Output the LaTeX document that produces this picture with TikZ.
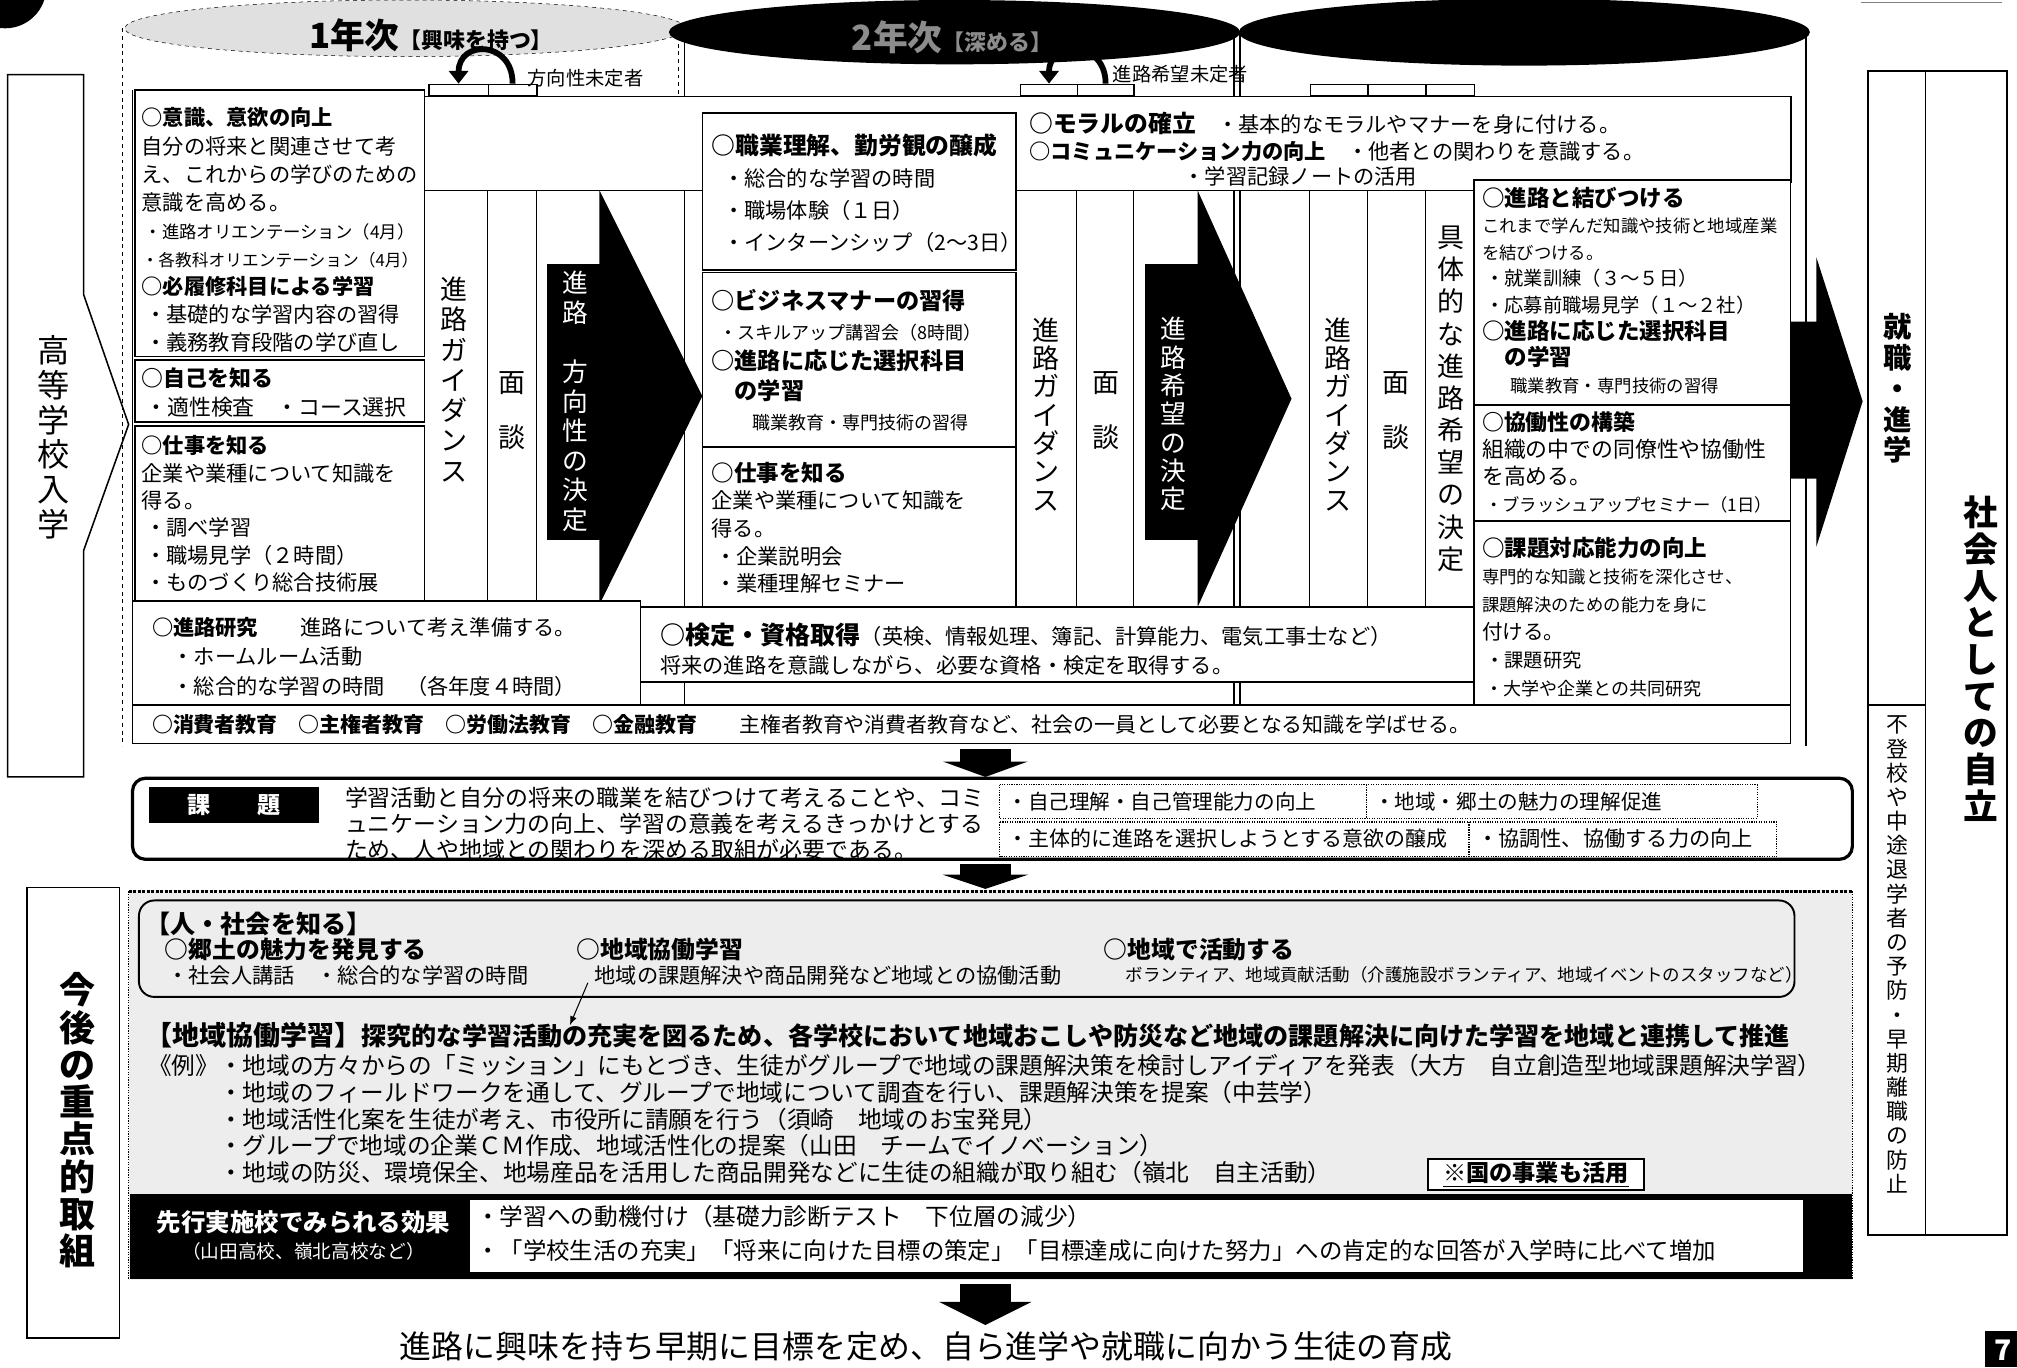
\documentclass[tikz,border=0pt]{standalone}
\usepackage{fontspec}
\setmainfont{Noto Sans CJK JP}
\usetikzlibrary{positioning,calc,arrows.meta}

\newcommand\fsz[2]{\fontsize{#1}{#2}\selectfont}

\tikzset{
  box/.style={draw, line width=1.2pt, fill=white},
  txt/.style={anchor=north west, align=left, inner sep=0pt},
  line/.style={anchor=west, inner sep=0pt},
  vt/.style={align=center, inner sep=0pt},
  tab/.style={draw, line width=1pt, minimum height=9pt, inner sep=0pt, anchor=south west},
  dbox/.style={draw, densely dotted, line width=0.9pt},
  turn/.style={line width=4.5pt, -{Triangle[length=10pt,width=15pt]}},
}

\begin{document}
\begin{tikzpicture}[x=1pt,y=-1pt]
\useasboundingbox (0,0) rectangle (1568,1063);

% page marks
\fill (4,-10) circle (32);
\draw[black!50] (1447,2) -- (1556,2);
\fill (1543,1035) rectangle (1568,1063);
\node[font=\fsz{22}{22}\bfseries, text=white] (pageno) at (1557,1050) {7};

% cylinders
\draw[dashed, fill=black!12] (315,22) ellipse (218 and 22);
\draw[dashed] (95,22) -- (95,580);
\draw[dashed] (527,22) -- (527,75);
\fill (742,25) ellipse (222 and 25);
\fill (1185,25) ellipse (222 and 26);
\draw[line width=1pt] (532,25) -- (532,578);
\draw[line width=1.5pt] (959,25) -- (959,578);
\draw[line width=1.5pt] (964,25) -- (964,578);
\draw[line width=2pt] (1404,25) -- (1404,580);
\node[font=\bfseries] (nen1) at (335,27) {\fsz{27}{27}1年次{\fsz{17}{17}【興味を持つ】}};
\node[font=\bfseries, text=black!45] (nen2) at (740,29) {\fsz{27}{27}2年次{\fsz{17}{17}【深める】}};

% left and right labels
\draw[line width=1.2pt] (65,229) -- (65,58) -- (6,58) -- (6,604) -- (65,604) -- (65,428) -- (100,330) -- cycle;
\node[vt, font=\fsz{25}{27}] (nyugaku) at (42,340) {高\\等\\学\\校\\入\\学};
\draw[line width=1.2pt] (21,690) rectangle (93,1040);
\node[vt, font=\fsz{28}{29}\bfseries] (kongo) at (60,871) {今\\後\\の\\重\\点\\的\\取\\組};
\draw[line width=1.2pt] (1452,55) rectangle (1497,960);
\draw[line width=1pt] (1452,548) -- (1497,548);
\draw[line width=1.2pt] (1497,55) rectangle (1560,960);
\node[vt, font=\fsz{22}{24}\bfseries] (shushoku) at (1475,302) {就\\職\\・\\進\\学};
\node[vt, font=\fsz{17}{18.8}] (futoko) at (1475,742) {不\\登\\校\\や\\中\\途\\退\\学\\者\\の\\予\\防\\・\\早\\期\\離\\職\\の\\防\\止};
\node[vt, font=\fsz{27}{28.5}\bfseries] (jiritsu) at (1540,512) {社\\会\\人\\と\\し\\て\\の\\自\\立};

% upper frame
\fill[white] (330,75) rectangle (1392,148);
\draw[line width=1.5pt] (330,75) -- (1392,75) -- (1392,142);
\draw[line width=1pt] (330,148) -- (1146,148);
\foreach \x in {379,417,837,881,1018,1063,1108}
  \draw[line width=1pt] (\x,148) -- (\x,472);
\draw[line width=1.2pt] (103,70) -- (103,578);

% tabs and turn arrows
\node[tab, minimum width=46pt] (t1a) at (333,75) {};
\node[tab, minimum width=38pt] (t1b) at (379,75) {};
\node[tab, minimum width=44pt] (t2a) at (793,75) {};
\node[tab, minimum width=44pt] (t2b) at (837,75) {};
\node[tab, minimum width=45pt] (t3a) at (1018,75) {};
\node[tab, minimum width=45pt] (t3b) at (1063,75) {};
\node[tab, minimum width=38pt] (t3c) at (1108,75) {};
\draw[turn] (t1b.north) .. controls +(0,-34) and +(0,-34) .. (t1a.north);
\draw[turn] (t2b.north) .. controls +(0,-34) and +(0,-34) .. (t2a.north);
\node[line, font=\fsz{15}{15}] (mitei1) at (410,61) {方向性未定者};
\node[line, font=\fsz{15}{15}] (mitei2) at (865,58) {進路希望未定者};

% black arrows
\fill (425,205) rectangle (468,420);
\fill (466,148) -- (546,308) -- (466,470) -- cycle;
\fill (890,205) rectangle (933,420);
\fill (931,148) -- (1004,310) -- (931,472) -- cycle;
\fill (1392,250) -- (1412,250) -- (1412,200) -- (1448,312) -- (1412,425) -- (1412,372) -- (1392,372) -- cycle;
\node[vt, font=\fsz{20}{23}, text=white] (kettei1) at (447,312) {進\\路\\　\\方\\向\\性\\の\\決\\定};
\node[vt, font=\fsz{20}{22}, text=white] (kettei2) at (912,322) {進\\路\\希\\望\\の\\決\\定};

% strips
\node[vt, font=\fsz{21}{23.5}] (guide1) at (353,295) {進\\路\\ガ\\イ\\ダ\\ン\\ス};
\node[vt, font=\fsz{21}{43}] (men1) at (398,319) {面\\談};
\node[vt, font=\fsz{21}{22}] (guide2) at (813,322) {進\\路\\ガ\\イ\\ダ\\ン\\ス};
\node[vt, font=\fsz{21}{43}] (men2) at (860,319) {面\\談};
\node[vt, font=\fsz{21}{22}] (guide3) at (1040,322) {進\\路\\ガ\\イ\\ダ\\ン\\ス};
\node[vt, font=\fsz{21}{43}] (men3) at (1085,319) {面\\談};
\node[vt, font=\fsz{21}{25}] (gutai) at (1128,310) {具\\体\\的\\な\\進\\路\\希\\望\\の\\決\\定};

% 1st year boxes
\draw[box] (105,70) rectangle (330,277);
\node[txt, font=\fsz{16.5}{21.8}] (ishiki) at (110,83.6) {{\bfseries ○意識、意欲の向上}\\自分の将来と関連させて考\\え、これからの学びのための\\意識を高める。\\{\fsz{13.5}{21.8}\,・進路オリエンテーション（4月）}\\{\fsz{13}{21.8}・各教科オリエンテーション（4月）}\\{\bfseries ○必履修科目による学習}\\\,・基礎的な学習内容の習得\\\,・義務教育段階の学び直し};
\draw[box] (105,280) rectangle (330,328);
\node[txt, font=\fsz{17}{23}] (jiko) at (110,285.4) {{\bfseries ○自己を知る}\\\,・適性検査　・コース選択};
\draw[box] (105,331) rectangle (330,467);
\node[txt, font=\fsz{16.5}{21.2}] (shigoto1) at (110,338.6) {{\bfseries ○仕事を知る}\\企業や業種について知識を\\得る。\\\,・調べ学習\\\,・職場見学（２時間）\\\,・ものづくり総合技術展};

% 2nd year boxes
\draw[box] (546,88) rectangle (790,210);
\node[txt, font=\fsz{16.5}{25}] (shokugyo) at (553,103.7) {{\fsz{18.5}{25}\bfseries ○職業理解、勤労観の醸成}\\\hspace*{9pt}・総合的な学習の時間\\\hspace*{9pt}・職場体験（１日）\\\hspace*{9pt}・インターンシップ（2～3日）};
\draw[box] (546,212) rectangle (790,347);
\node[txt, font=\fsz{18}{23.2}] (business) at (553,225) {{\bfseries ○ビジネスマナーの習得}\\{\fsz{14}{23.2}\hspace*{6pt}・スキルアップ講習会（8時間）}\\{\bfseries ○進路に応じた選択科目}\\{\bfseries 　の学習}\\{\fsz{14}{23.2}\hspace*{32pt}職業教育・専門技術の習得}};
\draw[box] (546,348) rectangle (790,472);
\node[txt, font=\fsz{16.5}{21.5}] (shigoto2) at (553,359) {{\fsz{17.5}{21.5}\bfseries ○仕事を知る}\\企業や業種について知識を\\得る。\\\,・企業説明会\\\,・業種理解セミナー};

% band
\node[txt, font=\fsz{16.5}{21}] (moral) at (800,87) {{\fsz{18.5}{21}\bfseries ○モラルの確立}　・基本的なモラルやマナーを身に付ける。\\{\bfseries ○コミュニケーション力の向上}　・他者との関わりを意識する。};
\node[line, font=\fsz{16.5}{16.5}] (note) at (920,137) {・学習記録ノートの活用};

% 3rd year boxes
\draw[box] (1146,140) rectangle (1392,315);
\node[txt, font=\fsz{15}{20.7}] (musubi) at (1152,145) {{\fsz{17.5}{20.7}\bfseries ○進路と結びつける}\\{\fsz{13.5}{20.7}これまで学んだ知識や技術と地域産業}\\{\fsz{13.5}{20.7}を結びつける。}\\\,・就業訓練（３～５日）\\\,・応募前職場見学（１～２社）\\{\fsz{17.5}{20.7}\bfseries ○進路に応じた選択科目}\\{\fsz{17.5}{20.7}\bfseries 　の学習}\\{\fsz{13.5}{20.7}\hspace*{22pt}職業教育・専門技術の習得}};
\draw[box] (1146,315) rectangle (1392,405);
\node[txt, font=\fsz{17}{21}] (kyodo) at (1152,320) {{\bfseries ○協働性の構築}\\組織の中での同僚性や協働性\\を高める。\\{\fsz{13.5}{21}\,・ブラッシュアップセミナー（1日）}};
\draw[box] (1146,405) rectangle (1392,548);
\node[txt, font=\fsz{15}{21.6}] (taio) at (1152,417) {{\fsz{17.5}{21.6}\bfseries ○課題対応能力の向上}\\{\fsz{13.5}{21.6}専門的な知識と技術を深化させ、}\\{\fsz{13.5}{21.6}課題解決のための能力を身に}\\{\fsz{16}{21.6}付ける。}\\\,・課題研究\\{\fsz{14}{21.6}\,・大学や企業との共同研究}};

% lower rows of the upper part
\draw[box] (103,467) rectangle (498,548);
\node[txt, font=\fsz{16.5}{23}] (kenkyu) at (118,479.6) {{\bfseries ○進路研究}　　進路について考え準備する。\\\hspace*{16pt}・ホームルーム活動\\\hspace*{16pt}・総合的な学習の時間　（各年度４時間）};
\draw[box] (498,472) rectangle (1146,530);
\node[txt, font=\fsz{16.5}{23}] (kentei) at (513,484) {{\fsz{19.5}{23}\bfseries ○検定・資格取得}（英検、情報処理、簿記、計算能力、電気工事士など）\\将来の進路を意識しながら、必要な資格・検定を取得する。};
\draw[box] (103,548) rectangle (1392,578);
\node[line, font=\fsz{16.3}{16.3}] (shohi) at (118,563) {{\bfseries ○消費者教育　○主権者教育　○労働法教育　○金融教育}　　主権者教育や消費者教育など、社会の一員として必要となる知識を学ばせる。};

% problem section
\fill (746,582) rectangle (786,592);
\fill (733,592) -- (799,592) -- (766,604) -- cycle;
\draw[line width=2.5pt, rounded corners=10pt, fill=white] (103,605) rectangle (1440,668);
\fill (116,612) rectangle (248,640);
\node[font=\fsz{18}{18}\bfseries, text=white] (kadaiLbl) at (182,626) {課　　題};
\node[txt, font=\fsz{17.8}{20}] (kadaiTxt) at (268,612) {学習活動と自分の将来の職業を結びつけて考えることや、コミ\\ュニケーション力の向上、学習の意義を考えるきっかけとする\\ため、人や地域との関わりを深める取組が必要である。};
\draw[dbox] (777,610) rectangle (1062,636);
\draw[dbox] (1062,610) rectangle (1366,636);
\draw[dbox] (777,639) rectangle (1142,666);
\draw[dbox] (1142,639) rectangle (1381,666);
\node[line, font=\fsz{16}{16}] (pt1) at (783,623) {・自己理解・自己管理能力の向上};
\node[line, font=\fsz{16}{16}] (pt2) at (1068,623) {・地域・郷土の魅力の理解促進};
\node[line, font=\fsz{16.3}{16}] (pt3) at (783,652) {・主体的に進路を選択しようとする意欲の醸成};
\node[line, font=\fsz{16.5}{16}] (pt4) at (1148,652) {・協調性、協働する力の向上};
\fill (746,672) rectangle (786,680);
\fill (733,680) -- (799,680) -- (766,691) -- cycle;

% future section
\fill[black!7] (100,692) rectangle (1440,995);
\draw[densely dotted, line width=2.5pt] (100,693) -- (1440,693);
\draw[densely dotted, line width=1pt] (100,693) -- (100,995) (1440,693) -- (1440,995);
\draw[line width=1.5pt, rounded corners=12pt] (108,700) rectangle (1395,775);
\node[line, font=\fsz{19.5}{19.5}\bfseries] (hito) at (113,718) {【人・社会を知る】};
\node[line, font=\fsz{18.5}{18.5}\bfseries] (kyodo1) at (128,738) {○郷土の魅力を発見する};
\node[line, font=\fsz{16.5}{16.5}] (kyodo2) at (130,758) {・社会人講話　・総合的な学習の時間};
\node[line, font=\fsz{18.5}{18.5}\bfseries] (chiiki1) at (448,738) {○地域協働学習};
\node[line, font=\fsz{16.5}{16.5}] (chiiki2) at (462,758) {地域の課題解決や商品開発など地域との協働活動};
\node[line, font=\fsz{18.5}{18.5}\bfseries] (katsudo1) at (858,738) {○地域で活動する};
\node[line, font=\fsz{13.6}{13.6}] (katsudo2) at (875,758) {ボランティア、地域貢献活動（介護施設ボランティア、地域イベントのスタッフなど）};
\coordinate (pa) at (457,764);
\coordinate (pb) at (443,797);
\draw[line width=0.8pt, -{Latex[length=7pt]}] (pa) -- (pb);
\node[line, font=\fsz{19.5}{19.5}\bfseries] (kyodoHead) at (113,805) {{\fsz{21}{21}【地域協働学習】}探究的な学習活動の充実を図るため、各学校において地域おこしや防災など地域の課題解決に向けた学習を地域と連携して推進};
\node[txt, font=\fsz{18.4}{20.7}] (rei) at (115,819.7) {《例》・地域の方々からの「ミッション」にもとづき、生徒がグループで地域の課題解決策を検討しアイディアを発表（大方　自立創造型地域課題解決学習）\\\phantom{《例》}・地域のフィールドワークを通して、グループで地域について調査を行い、課題解決策を提案（中芸学）\\\phantom{《例》}・地域活性化案を生徒が考え、市役所に請願を行う（須崎　地域のお宝発見）\\\phantom{《例》}・グループで地域の企業ＣＭ作成、地域活性化の提案（山田　チームでイノベーション）\\\phantom{《例》}・地域の防災、環境保全、地場産品を活用した商品開発などに生徒の組織が取り組む（嶺北　自主活動）};
\draw[line width=1.5pt, fill=white] (1110,901) rectangle (1278,925);
\node[font=\fsz{18}{18}\bfseries] (kuni) at (1194,913) {\underline{※国の事業も活用}};

% effects band
\fill (101,928) rectangle (1440,994);
\fill[white] (365,933) rectangle (1402,989);
\node[font=\fsz{19}{19}\bfseries, text=white] (koka) at (236,950) {先行実施校でみられる効果};
\node[font=\fsz{14.5}{14.5}, text=white] (kokaSchool) at (236,973) {（山田高校、嶺北高校など）};
\node[line, font=\fsz{18.4}{18.4}] (koka1) at (370,946) {・学習への動機付け（基礎力診断テスト　下位層の減少）};
\node[line, font=\fsz{18.2}{18.2}] (koka2) at (370,972) {・「学校生活の充実」「将来に向けた目標の策定」「目標達成に向けた努力」への肯定的な回答が入学時に比べて増加};

% goal
\fill (746,998) rectangle (786,1012);
\fill (730,1012) -- (802,1012) -- (766,1030) -- cycle;
\node[font=\fsz{24.8}{24.8}] (goal) at (720,1047) {進路に興味を持ち早期に目標を定め、自ら進学や就職に向かう生徒の育成};

\end{tikzpicture}
\end{document}
